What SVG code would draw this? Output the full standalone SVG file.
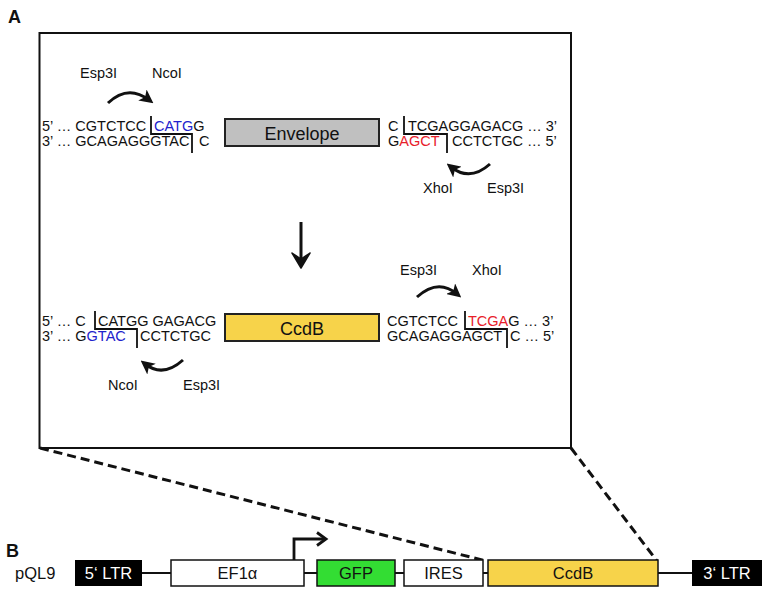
<svg xmlns="http://www.w3.org/2000/svg" width="768" height="594" viewBox="0 0 768 594">
<defs>
<style>
text{font-family:"Liberation Sans",Arial,sans-serif;fill:#111}
.seq{font-size:14.5px}
.lab{font-size:14.5px}
.big{font-size:18px}
.pl{font-size:16.5px}
.w{fill:#fff}
.b{fill:#2222cc}
.r{fill:#e8202a}
.br{fill:none;stroke:#111;stroke-width:1.8}
.arc{fill:none;stroke:#111;stroke-width:3;marker-end:url(#ah)}
.box{stroke:#222;stroke-width:2}
.pb{stroke:#111;stroke-width:1.5}
</style>
<marker id="ah" viewBox="0 0 10 10" refX="6" refY="5" markerWidth="4.6" markerHeight="4.6" orient="auto" markerUnits="strokeWidth">
<path d="M0,0 L10,5 L0,10 L2.5,5 z" fill="#111"/>
</marker>
</defs>
<rect width="768" height="594" fill="#fff"/>
<text x="8" y="23" style="font-size:18px;font-weight:bold">A</text>
<text x="6" y="557" style="font-size:18px;font-weight:bold">B</text>
<g id="panelA">
<rect x="39.5" y="33" width="531.5" height="415" fill="#fff" stroke="#111" stroke-width="2"/>
</g>
<g id="connectors">
<line x1="40" y1="448" x2="486" y2="561" stroke="#111" stroke-width="3" stroke-dasharray="9,5"/>
<line x1="571" y1="448" x2="657" y2="561" stroke="#111" stroke-width="3" stroke-dasharray="9,5"/>
<path d="M301,222 V262" stroke="#111" stroke-width="3" fill="none"/>
<path d="M292,253 L301,268 L310,253 L301,259 z" fill="#111" stroke="#111" stroke-width="1.5" stroke-linejoin="round"/>
<line x1="142" y1="573" x2="171" y2="573" stroke="#111" stroke-width="2"/>
<line x1="304" y1="573" x2="317" y2="573" stroke="#111" stroke-width="2"/>
<line x1="395" y1="573" x2="404" y2="573" stroke="#111" stroke-width="2"/>
<line x1="483" y1="573" x2="488" y2="573" stroke="#111" stroke-width="2"/>
<line x1="658" y1="573" x2="692" y2="573" stroke="#111" stroke-width="2"/>
</g>
<g id="site-top-left">
<text class="lab" x="80" y="78">Esp3I</text>
<text class="lab" x="152" y="78">NcoI</text>
<path class="arc" d="M108,103 Q128,84 149,100"/>
<text class="seq" x="42" y="131">5’ … CGTCTCC</text>
<text class="seq" x="154" y="131"><tspan class="b">CATG</tspan>G</text>
<text class="seq" x="42" y="146">3’ … GCAGAGGGTAC</text>
<text class="seq" x="199" y="146">C</text>
<path class="br" d="M151,116 V134 H192 V153"/>
</g>
<g id="envelope">
<rect class="box" x="225" y="119" width="154" height="27" fill="#c0c0c0"/>
<text class="big" x="302" y="139.5" text-anchor="middle">Envelope</text>
</g>
<g id="site-top-right">
<text class="seq" x="388" y="131">C</text>
<text class="seq" x="408" y="131">TCGAGGAGACG … 3’</text>
<text class="seq" x="388" y="146">G<tspan class="r">AGCT</tspan></text>
<text class="seq" x="452" y="146">CCTCTGC … 5’</text>
<path class="br" d="M404,116 V134 H447 V153"/>
<path class="arc" d="M490,164 Q470,182 451,167"/>
<text class="lab" x="423" y="193">XhoI</text>
<text class="lab" x="487" y="193">Esp3I</text>
</g>
<g id="site-bottom-left">
<text class="seq" x="42" y="326">5’ … C</text>
<text class="seq" x="98" y="326">CATGG GAGACG</text>
<text class="seq" x="42" y="341">3’ … G<tspan class="b">GTAC</tspan></text>
<text class="seq" x="140" y="341">CCTCTGC</text>
<path class="br" d="M95,311 V329 H137 V348"/>
<path class="arc" d="M183,360 Q163,378 145,364"/>
<text class="lab" x="108" y="390">NcoI</text>
<text class="lab" x="183" y="390">Esp3I</text>
</g>
<g id="ccdb-top">
<rect class="box" x="225" y="314" width="154" height="27" fill="#f7d34a"/>
<text class="big" x="302" y="334.5" text-anchor="middle">CcdB</text>
</g>
<g id="site-bottom-right">
<text class="lab" x="400" y="275">Esp3I</text>
<text class="lab" x="472" y="275">XhoI</text>
<path class="arc" d="M417,297 Q438,278 457,294"/>
<text class="seq" x="387" y="326">CGTCTCC</text>
<text class="seq" x="468" y="326"><tspan class="r">TCGA</tspan>G … 3’</text>
<text class="seq" x="387" y="341">GCAGAGGAGCT</text>
<text class="seq" x="510" y="341">C … 5’</text>
<path class="br" d="M465,311 V329 H507 V348"/>
</g>
<text class="pl" x="15" y="579">pQL9</text>
<g id="ltr5">
<rect x="75" y="560" width="67" height="26" fill="#000"/>
<text class="pl w" x="108.5" y="579" text-anchor="middle">5‘ LTR</text>
</g>
<g id="ef1a">
<rect class="pb" x="171" y="560" width="133" height="26" fill="#fff"/>
<text class="pl" x="237.5" y="579" text-anchor="middle">EF1α</text>
</g>
<g id="promoter">
<path d="M294,560 V539 H324" fill="none" stroke="#111" stroke-width="2.8"/>
<path d="M317,532.5 L326,539 L317,545.5" fill="none" stroke="#111" stroke-width="2.8"/>
</g>
<g id="gfp">
<rect class="pb" x="317" y="560" width="78" height="26" fill="#33dd33"/>
<text class="pl" x="356" y="579" text-anchor="middle">GFP</text>
</g>
<g id="ires">
<rect class="pb" x="404" y="560" width="79" height="26" fill="#fff"/>
<text class="pl" x="443.5" y="579" text-anchor="middle">IRES</text>
</g>
<g id="ccdb">
<rect class="pb" x="488" y="560" width="170" height="26" fill="#f7d34a"/>
<text class="pl" x="573" y="579" text-anchor="middle">CcdB</text>
</g>
<g id="ltr3">
<rect x="692" y="560" width="70" height="26" fill="#000"/>
<text class="pl w" x="727" y="579" text-anchor="middle">3‘ LTR</text>
</g>
</svg>
